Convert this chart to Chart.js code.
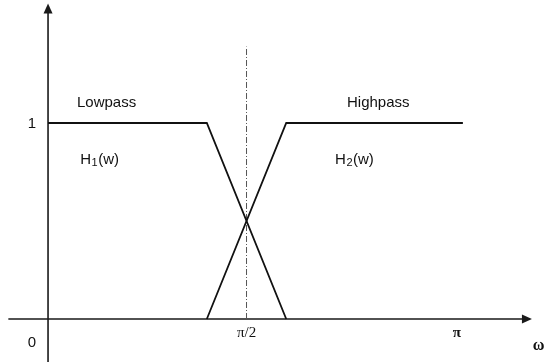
<!DOCTYPE html>
<html>
<head>
<meta charset="utf-8">
<script src="https://cdn.jsdelivr.net/npm/chart.js@4/dist/chart.umd.min.js"></script>
<style>
    html, body { margin: 0; padding: 0; background: #fff; }
    #chart { display: block; }
</style>
</head>
<body>
<canvas id="chart" width="548" height="362"></canvas>
<script>
(function () {
    "use strict";

    // ======================================================================
    // Data (x in units of w/pi, y is gain)
    //
    const lowpassX = [0, 0.4, 0.6];
    const lowpassY = [1, 1, 0];
    const highpassX = [0.4, 0.6, 1.045];
    const highpassY = [0, 1, 1];
    const cutoffX = [0.5, 0.5];
    const cutoffY = [0, 1.39];

    const xTickValues = [0.5, 1.03];
    const xTickLabels = ['π/2', 'π'];
    const yTickValues = [1];
    const yTickLabels = ['1'];

    // text, subscript, rest
    const notes = [
        { text: 'Lowpass', sub: '', rest: '', x: 0.073, y: 1.105 },
        { text: 'H', sub: '1', rest: '(w)', x: 0.081, y: 0.81 },
        { text: 'Highpass', sub: '', rest: '', x: 0.753, y: 1.105 },
        { text: 'H', sub: '2', rest: '(w)', x: 0.723, y: 0.81 }
    ];

    const toPoints = (xs, ys) => xs.map((x, i) => ({ x: x, y: ys[i] }));

    // ======================================================================
    // Axes + labels plugin
    //
    const axesPlugin = {
        id: 'axesPlugin',
        beforeDatasetsDraw(chart) {
            const { ctx, scales: { x, y } } = chart;
            const x0 = x.getPixelForValue(0), y0 = y.getPixelForValue(0);
            const xTip = x.getPixelForValue(1.219), yTip = y.getPixelForValue(1.61);

            ctx.save();
            ctx.strokeStyle = '#1a1a1a';
            ctx.fillStyle = '#1a1a1a';
            ctx.lineWidth = 1.6;

            ctx.beginPath();
            ctx.moveTo(x.getPixelForValue(-0.1), y0);
            ctx.lineTo(xTip - 8, y0);
            ctx.moveTo(x0, y.getPixelForValue(-0.22));
            ctx.lineTo(x0, yTip + 8);
            ctx.stroke();

            // arrow heads
            ctx.beginPath();
            ctx.moveTo(xTip, y0);
            ctx.lineTo(xTip - 10, y0 - 4.5);
            ctx.lineTo(xTip - 10, y0 + 4.5);
            ctx.closePath();
            ctx.fill();

            ctx.beginPath();
            ctx.moveTo(x0, yTip);
            ctx.lineTo(x0 - 4.5, yTip + 10);
            ctx.lineTo(x0 + 4.5, yTip + 10);
            ctx.closePath();
            ctx.fill();
            ctx.restore();
        },
        afterDraw(chart) {
            const { ctx, scales: { x, y } } = chart;
            const x0 = x.getPixelForValue(0), y0 = y.getPixelForValue(0);
            const sans = '"Liberation Sans", Arial, sans-serif';

            ctx.save();
            ctx.fillStyle = '#111';
            ctx.textBaseline = 'middle';
            ctx.textAlign = 'left';

            notes.forEach(n => {
                let px = x.getPixelForValue(n.x), py = y.getPixelForValue(n.y);
                ctx.font = '15px ' + sans;
                ctx.fillText(n.text, px, py);
                px += ctx.measureText(n.text).width;
                if (n.sub) {
                    ctx.font = '11px ' + sans;
                    ctx.fillText(n.sub, px + 0.5, py + 3);
                    px += ctx.measureText(n.sub).width + 1;
                }
                if (n.rest) {
                    ctx.font = '15px ' + sans;
                    ctx.fillText(n.rest, px, py);
                }
            });

            ctx.font = '15px ' + sans;
            ctx.textAlign = 'center';
            yTickValues.forEach((v, i) => ctx.fillText(yTickLabels[i], x0 - 16, y.getPixelForValue(v) + 1));
            ctx.fillText('0', x0 - 16, y0 + 24);

            ctx.font = '15px "Liberation Serif", "Times New Roman", serif';
            ctx.fillText(xTickLabels[0], x.getPixelForValue(xTickValues[0]), y0 + 14);
            ctx.font = 'bold 15px "Liberation Serif", "Times New Roman", serif';
            ctx.fillText(xTickLabels[1], x.getPixelForValue(xTickValues[1]), y0 + 14);

            ctx.font = 'bold 16px "Liberation Serif", serif';
            ctx.fillText('ω', x.getPixelForValue(1.236), y0 + 27);
            ctx.restore();
        }
    };

    // ======================================================================
    // Chart
    //
    new Chart(document.getElementById('chart'), {
        type: 'line',
        data: {
            datasets: [
                {
                    label: 'Lowpass',
                    data: toPoints(lowpassX, lowpassY),
                    borderColor: '#111',
                    borderWidth: 1.8,
                    pointRadius: 0,
                    tension: 0
                },
                {
                    label: 'Highpass',
                    data: toPoints(highpassX, highpassY),
                    borderColor: '#111',
                    borderWidth: 1.8,
                    pointRadius: 0,
                    tension: 0
                },
                {
                    label: 'cutoff',
                    data: toPoints(cutoffX, cutoffY),
                    borderColor: '#555',
                    borderWidth: 1,
                    borderDash: [6, 2, 1, 2],
                    pointRadius: 0
                }
            ]
        },
        options: {
            responsive: false,
            devicePixelRatio: 1,
            animation: false,
            layout: { padding: 0 },
            plugins: {
                legend: { display: false },
                tooltip: { enabled: false }
            },
            scales: {
                x: { type: 'linear', min: -0.121, max: 1.2594, display: false },
                y: { type: 'linear', min: -0.2194, max: 1.6276, display: false }
            }
        },
        plugins: [axesPlugin]
    });
})();
</script>
</body>
</html>
